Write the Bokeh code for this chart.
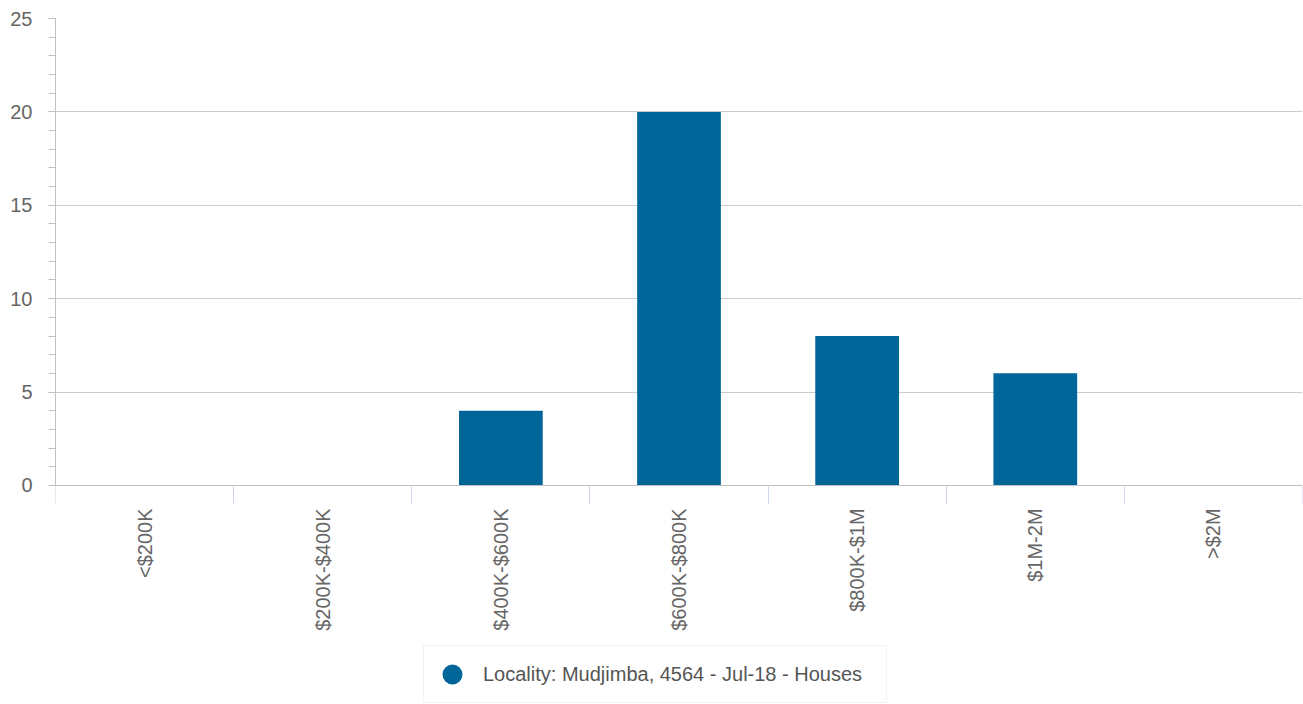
import math
from bokeh.plotting import figure
from bokeh.models import (Range1d, FixedTicker, SingleIntervalTicker, Legend, LegendItem,
                          ColumnDataSource, LinearAxis)
from bokeh.embed import file_html
from bokeh.resources import INLINE

categories = ["<$200K", "$200K-$400K", "$400K-$600K", "$600K-$800K", "$800K-$1M", "$1M-2M", ">$2M"]
counts = [0, 0, 4, 20, 8, 6, 0]
series_name = "Locality: Mudjimba, 4564 - Jul-18 - Houses"

BAR = "#00669a"
FONT = "Liberation Sans"
Y_MAX = 25
Y_BELOW = -11.73   # room below zero for the category labels and the legend

centers = [i + 0.5 for i in range(len(categories))]
bounds = [float(i) for i in range(len(categories) + 1)]

p = figure(width=1303, height=704, output_backend="svg", toolbar_location=None,
           x_range=Range1d(0, len(categories)), y_range=Range1d(Y_BELOW, Y_MAX),
           min_border_left=55, min_border_right=1, min_border_top=18, min_border_bottom=0,
           x_axis_location=None)
p.outline_line_color = None
p.background_fill_color = "white"

src = ColumnDataSource(dict(x=centers, top=counts))
bars = p.vbar(x="x", top="top", width=0.47, bottom=0, source=src,
              fill_color=BAR, line_color=None)
# legend-only marker (not drawn in the plot)
dummy = p.scatter(x=[float("nan")], y=[float("nan")], marker="circle", size=20,
                  fill_color=BAR, line_color=None)

# x axis placed at y = 0 inside the frame
xa = LinearAxis(fixed_location=0)
xa.ticker = FixedTicker(ticks=centers, minor_ticks=bounds)
xa.major_label_overrides = {c: lab for c, lab in zip(centers, categories)}
xa.major_tick_line_color = None
xa.major_tick_out = 0
xa.major_tick_in = 0
xa.minor_tick_line_color = "#ccd6eb"
xa.minor_tick_out = 18
xa.minor_tick_in = 0
xa.axis_line_color = "#c0c0c0"
xa.major_label_orientation = math.pi / 2
xa.major_label_standoff = 5
xa.major_label_text_font = FONT
xa.major_label_text_font_size = "20px"
xa.major_label_text_color = "#666666"
p.add_layout(xa, "below")
p.xgrid.visible = False

# y axis
ya = p.yaxis[0]
ya.bounds = (0, Y_MAX)
ya.ticker = SingleIntervalTicker(interval=5, num_minor_ticks=5)
ya.axis_line_color = "#c0c0c0"
ya.major_tick_line_color = "#c0c0c0"
ya.minor_tick_line_color = "#c0c0c0"
ya.major_tick_out = 7
ya.major_tick_in = 0
ya.minor_tick_out = 7
ya.minor_tick_in = 0
ya.major_label_standoff = 16
ya.major_label_text_font = FONT
ya.major_label_text_font_size = "20px"
ya.major_label_text_color = "#666666"
p.ygrid.grid_line_color = "#cccccc"
p.ygrid.bounds = (0, Y_MAX)
p.ygrid.ticker = SingleIntervalTicker(interval=5)

legend = Legend(items=[LegendItem(label=series_name, renderers=[dummy])],
                location=(368, 1), orientation="horizontal",
                glyph_width=50, glyph_height=50, padding=3, margin=0,
                label_standoff=6, label_width=400,
                label_text_font=FONT, label_text_font_size="20px",
                label_text_color="#555555",
                border_line_color="#e6e6e6", background_fill_alpha=1.0)
p.add_layout(legend, "center")

open("out.html", "w").write(file_html(p, INLINE))
